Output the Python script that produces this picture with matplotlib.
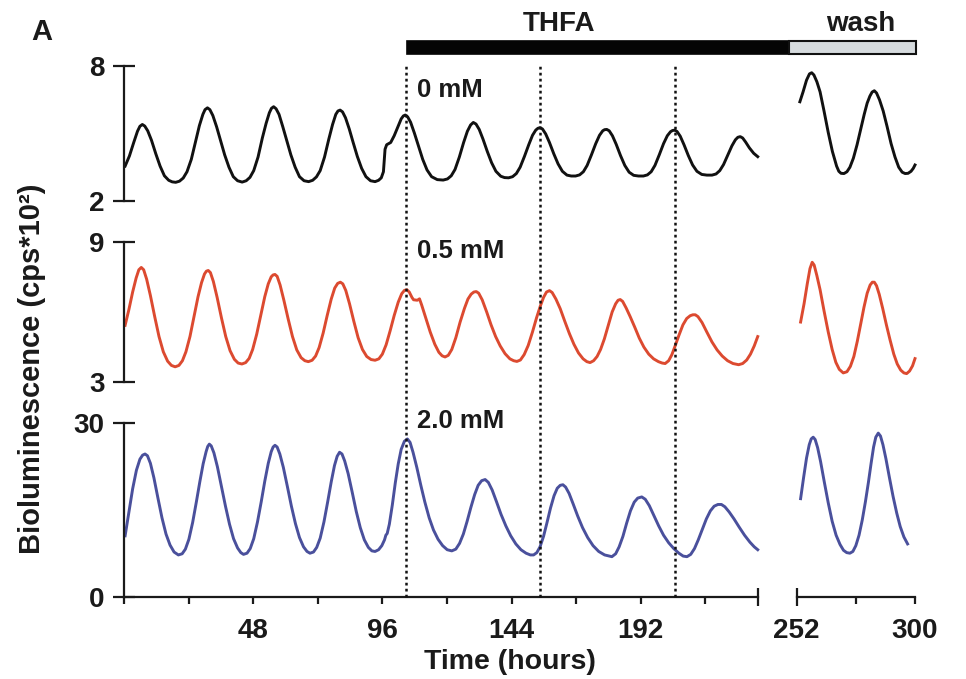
import matplotlib
matplotlib.use("Agg")
import matplotlib.pyplot as plt
import matplotlib.transforms as mtransforms
from matplotlib.patches import Rectangle
from matplotlib.lines import Line2D

# values: time (hours) vs bioluminescence (cps*10^2)
# 0 mM THFA, before the break
t_0mM = [0.4, 2.0, 3.6, 5.0, 5.9, 6.8, 7.7, 8.8, 10.2, 11.8, 13.4, 15.0, 16.6, 17.9, 19.2,
         20.6, 22.0, 23.4, 25.0, 26.6, 28.0, 29.3, 30.1, 31.0, 31.9, 33.0, 34.4, 35.8,
         37.4, 39.0, 40.6, 42.2, 43.9, 45.4, 46.8, 48.2, 49.8, 51.4, 52.8, 54.0, 54.8,
         55.6, 56.5, 57.6, 59.0, 60.4, 62.0, 63.6, 65.2, 66.9, 68.6, 70.1, 71.5, 72.9,
         74.5, 76.1, 77.5, 78.7, 79.5, 80.3, 81.2, 82.3, 83.7, 85.1, 86.7, 88.3, 89.9,
         91.6, 93.3, 94.6, 95.6, 96.4, 97.0, 97.6, 99.1, 100.4, 101.8, 103.0, 103.8,
         104.5, 105.4, 106.5, 107.9, 109.4, 111.0, 112.6, 114.3, 116.4, 118.6, 120.2,
         121.6, 123.0, 124.6, 126.2, 127.6, 128.8, 129.8, 130.8, 132.0, 133.4, 135.0,
         136.6, 138.2, 140.0, 141.4, 142.9, 144.4, 145.8, 147.2, 148.8, 150.4, 151.8,
         153.0, 153.8, 154.6, 155.5, 156.7, 158.1, 159.7, 161.3, 162.9, 164.6, 166.2,
         167.8, 169.3, 170.7, 172.1, 173.7, 175.3, 176.7, 177.9, 178.6, 179.4, 180.3,
         181.5, 182.9, 184.5, 186.1, 187.7, 189.4, 191.2, 193.0, 194.5, 195.9, 197.3,
         198.9, 200.5, 201.9, 203.1, 203.8, 204.6, 205.5, 206.7, 208.1, 209.7, 211.3,
         212.9, 214.7, 216.6, 218.5, 220.0, 221.4, 222.8, 224.4, 225.9, 227.2, 228.1,
         229.0, 229.9, 231.0, 232.4, 234.0, 235.5]
y_0mM = [3.55, 4.00, 4.60, 5.10, 5.32, 5.40, 5.33, 5.12, 4.70, 4.10, 3.55, 3.12, 2.92, 2.85, 2.83,
         2.88, 3.02, 3.30, 3.85, 4.65, 5.35, 5.85, 6.06, 6.14, 6.06, 5.80, 5.30, 4.72,
         4.05, 3.50, 3.08, 2.90, 2.84, 2.90, 3.05, 3.35, 3.95, 4.80, 5.45, 5.92, 6.12,
         6.19, 6.10, 5.85, 5.30, 4.72, 4.05, 3.50, 3.08, 2.90, 2.86, 2.92, 3.07, 3.35,
         3.95, 4.75, 5.40, 5.85, 6.00, 6.04, 5.96, 5.70, 5.20, 4.62, 3.98, 3.45, 3.08,
         2.90, 2.86, 2.92, 3.03, 3.30, 4.30, 4.50, 4.60, 4.90, 5.30, 5.65, 5.78,
         5.82, 5.74, 5.50, 5.02, 4.45, 3.85, 3.38, 3.08, 2.95, 2.93, 2.98,
         3.12, 3.40, 3.95, 4.60, 5.10, 5.38, 5.49, 5.42, 5.18, 4.75, 4.20,
         3.70, 3.32, 3.10, 3.04, 3.03, 3.08, 3.22, 3.50, 3.98, 4.50, 4.92,
         5.15, 5.23, 5.26, 5.20, 4.98, 4.60, 4.10, 3.65, 3.32, 3.15, 3.11,
         3.11, 3.16, 3.30, 3.58, 4.05, 4.55, 4.92, 5.12, 5.17, 5.18, 5.12,
         4.90, 4.52, 4.02, 3.58, 3.28, 3.14, 3.11, 3.11, 3.16, 3.30, 3.58,
         4.05, 4.55, 4.90, 5.08, 5.13, 5.15, 5.09, 4.88, 4.50, 4.02, 3.60,
         3.32, 3.18, 3.15, 3.15, 3.20, 3.35, 3.62, 4.05, 4.45, 4.72, 4.83,
         4.86, 4.80, 4.62, 4.36, 4.12, 3.97]
# 0 mM, after wash
tw_0mM = [253.3, 254.6, 256.0, 257.2, 258.1, 259.0, 260.2, 261.5, 263.1, 264.8, 266.5, 268.2,
          269.1, 270.0, 271.2, 272.4, 273.6, 275.0, 276.5, 278.0, 279.4, 280.6, 281.7, 282.6,
          283.5, 284.4, 285.6, 287.1, 288.7, 290.3, 291.9, 293.4, 294.8, 296.0, 297.2, 298.4,
          299.3, 300.0]
yw_0mM = [6.41, 6.85, 7.37, 7.65, 7.70, 7.60, 7.30, 6.85, 6.00, 5.05, 4.20, 3.55,
          3.32, 3.23, 3.22, 3.30, 3.50, 3.90, 4.50, 5.20, 5.85, 6.35, 6.66, 6.84,
          6.90, 6.80, 6.50, 6.00, 5.30, 4.55, 3.95, 3.50, 3.28, 3.22, 3.23, 3.32,
          3.45, 3.60]

# 0.5 mM
t_05mM = [0.4, 1.8, 3.2, 4.5, 5.5, 6.4, 7.3, 8.4, 9.8, 11.4, 13.0, 14.6, 16.2, 17.6, 19.0,
          20.4, 21.7, 23.0, 24.5, 26.0, 27.5, 28.8, 29.9, 30.6, 31.3, 32.1, 33.2, 34.6,
          36.2, 37.8, 39.4, 41.0, 42.4, 43.8, 45.2, 46.5, 47.8, 49.3, 50.8, 52.3, 53.6,
          54.7, 55.4, 56.1, 56.9, 58.0, 59.4, 61.0, 62.6, 64.2, 65.8, 67.2, 68.5, 69.9,
          71.2, 72.5, 74.0, 75.5, 77.0, 78.3, 79.4, 80.4, 81.3, 82.4, 83.8, 85.4, 87.0,
          88.6, 90.2, 91.8, 93.3, 94.7, 96.0, 97.4, 98.9, 100.4, 101.9, 103.2, 104.2,
          105.1, 106.0, 107.0, 107.6, 109.0, 109.8, 110.6, 112.2, 113.8, 115.5, 117.0,
          118.2, 119.3, 120.5, 121.8, 123.3, 124.9, 126.5, 127.8, 129.0, 130.0, 130.9,
          131.8, 133.1, 134.8, 136.4, 138.1, 139.8, 141.6, 143.4, 144.8, 146.0, 147.3,
          148.7, 150.2, 151.8, 153.3, 154.7, 155.9, 157.0, 158.1, 159.1, 160.5, 162.1,
          163.8, 165.5, 167.2, 168.9, 170.6, 172.0, 173.2, 174.5, 175.8, 177.1, 178.5,
          180.0, 181.4, 182.7, 183.6, 184.4, 185.3, 186.6, 188.1, 189.8, 191.5, 193.2,
          195.0, 196.8, 198.6, 200.0, 201.1, 202.4, 203.6, 204.8, 206.2, 207.7, 209.1,
          210.4, 211.4, 212.3, 213.3, 214.8, 216.6, 218.5, 220.4, 222.3, 224.3, 226.3,
          228.4, 229.9, 231.4, 232.8, 234.2, 235.5]
y_05mM = [5.43, 6.10, 6.85, 7.45, 7.80, 7.90, 7.80, 7.40, 6.70, 5.80, 4.95, 4.30, 3.90, 3.72, 3.66,
          3.72, 3.92, 4.30, 4.95, 5.80, 6.65, 7.25, 7.62, 7.74, 7.77, 7.68, 7.30, 6.62,
          5.75, 4.95, 4.35, 3.98, 3.82, 3.78, 3.84, 4.02, 4.40, 5.05, 5.85, 6.65, 7.20,
          7.50, 7.58, 7.60, 7.52, 7.15, 6.50, 5.70, 4.95, 4.38, 4.05, 3.92, 3.88, 3.94,
          4.12, 4.48, 5.10, 5.85, 6.55, 7.02, 7.22, 7.27, 7.20, 6.92, 6.35, 5.60, 4.90,
          4.40, 4.10, 3.97, 3.94, 4.00, 4.20, 4.60, 5.20, 5.85, 6.42, 6.78, 6.92,
          6.95, 6.85, 6.62, 6.52, 6.50, 6.56, 6.30, 5.72, 5.14, 4.62, 4.28,
          4.13, 4.08, 4.15, 4.40, 4.90, 5.57, 6.15, 6.55, 6.76, 6.85, 6.87,
          6.80, 6.52, 5.99, 5.45, 4.95, 4.55, 4.22, 4.00, 3.92, 3.89, 3.95,
          4.18, 4.57, 5.15, 5.75, 6.25, 6.62, 6.85, 6.91, 6.83, 6.55, 6.14,
          5.60, 5.08, 4.62, 4.25, 4.00, 3.88, 3.84, 3.92, 4.10, 4.40, 4.85,
          5.45, 6.00, 6.35, 6.50, 6.53, 6.45, 6.17, 5.80, 5.35, 4.88, 4.50,
          4.20, 4.00, 3.88, 3.82, 3.80, 3.92, 4.18, 4.55, 5.00, 5.45, 5.72,
          5.84, 5.88, 5.88, 5.80, 5.55, 5.14, 4.72, 4.38, 4.12, 3.92, 3.80,
          3.75, 3.80, 3.95, 4.20, 4.55, 4.95]
tw_05mM = [253.6, 255.0, 256.3, 257.4, 258.3, 259.1, 260.2, 261.5, 263.1, 264.8, 266.4, 267.9,
           269.3, 270.9, 272.4, 273.8, 275.2, 276.6, 278.0, 279.3, 280.6, 281.8, 282.7, 283.5,
           284.4, 285.5, 286.9, 288.4, 289.9, 291.4, 292.8, 294.2, 295.5, 296.6, 297.8, 299.0,
           300.0]
yw_05mM = [5.57, 6.35, 7.20, 7.85, 8.12, 8.00, 7.55, 6.95, 6.05, 5.15, 4.40, 3.85,
           3.55, 3.40, 3.45, 3.68, 4.10, 4.75, 5.50, 6.20, 6.80, 7.15, 7.27, 7.27,
           7.12, 6.75, 6.15, 5.45, 4.80, 4.20, 3.78, 3.52, 3.40, 3.37, 3.48, 3.70,
           4.01]

# 2.0 mM
t_2mM = [0.4, 1.8, 3.2, 4.6, 5.9, 6.9, 7.8, 8.7, 9.8, 11.1, 12.6, 14.1, 15.6, 17.1, 18.6,
         20.2, 21.6, 22.8, 24.1, 25.5, 26.9, 28.2, 29.4, 30.5, 31.1, 31.7, 32.4, 33.4,
         34.7, 36.2, 37.7, 39.2, 40.7, 42.2, 43.4, 44.4, 45.7, 46.9, 48.2, 49.6, 51.0,
         52.3, 53.6, 54.7, 55.4, 56.1, 56.9, 57.9, 59.2, 60.7, 62.2, 63.7, 65.2, 66.7,
         68.0, 69.1, 70.4, 71.6, 72.9, 74.3, 75.7, 77.0, 78.2, 79.2, 80.1, 81.0, 82.0,
         83.3, 84.8, 86.3, 87.8, 89.3, 90.8, 92.1, 93.3, 94.6, 95.8, 96.8, 97.3, 97.8,
         98.6, 99.7, 100.8, 101.9, 103.0, 104.2, 105.3, 106.3, 107.4, 108.8, 110.3,
         111.8, 113.4, 115.0, 116.7, 118.4, 120.1, 121.8, 123.3, 124.7, 126.1, 127.5,
         128.9, 130.3, 131.6, 132.9, 134.2, 135.4, 136.8, 138.4, 140.1, 141.9, 143.7,
         145.6, 147.5, 149.4, 151.0, 152.2, 153.4, 154.6, 155.9, 157.2, 158.5, 159.8,
         161.0, 162.1, 163.1, 164.1, 165.4, 166.9, 168.6, 170.4, 172.3, 174.3, 176.4,
         178.6, 181.3, 182.7, 184.0, 185.4, 186.8, 188.2, 189.6, 190.9, 192.4, 193.7,
         195.2, 196.9, 198.7, 200.5, 202.4, 204.3, 206.2, 207.8, 209.2, 210.6, 212.0,
         213.4, 214.9, 216.4, 217.9, 219.3, 220.7, 222.0, 223.3, 224.9, 226.7, 228.6,
         230.6, 232.6, 234.2, 235.5]
y_2mM = [10.5, 14.6, 18.6, 21.8, 23.7, 24.4, 24.6, 24.3, 23.0, 20.5, 17.0, 13.6, 10.8, 8.9, 7.7,
         7.2, 7.4, 8.2, 9.9, 12.8, 16.4, 19.9, 22.9, 25.0, 25.9, 26.3, 26.0, 24.8,
         22.4, 19.0, 15.6, 12.5, 10.0, 8.4, 7.6, 7.3, 7.5, 8.3, 10.0, 12.9, 16.4,
         19.9, 23.0, 25.0, 25.8, 26.1, 25.8, 24.6, 22.3, 19.0, 15.6, 12.6, 10.2, 8.6,
         7.8, 7.5, 7.7, 8.5, 10.1, 12.9, 16.4, 19.8, 22.6, 24.2, 24.9, 24.6, 23.4,
         21.2, 18.0, 14.7, 11.9, 9.8, 8.5, 7.9, 7.8, 8.1, 8.8, 9.8, 10.6, 10.9,
         12.5, 15.8, 19.6, 22.9, 25.4, 26.8, 27.2, 26.6, 24.9, 22.3, 19.2,
         16.3, 13.6, 11.5, 9.9, 8.8, 8.1, 7.9, 8.2, 9.2, 10.8, 13.0,
         15.4, 17.6, 19.2, 20.0, 20.2, 19.7, 18.4, 16.4, 14.2, 12.2, 10.5,
         9.1, 8.1, 7.5, 7.2, 7.2, 7.6, 8.6, 10.4, 12.8, 15.3, 17.4,
         18.7, 19.2, 19.3, 18.9, 17.8, 16.0, 13.9, 11.9, 10.2, 8.8, 7.8,
         7.2, 6.9, 7.4, 8.6, 10.4, 12.7, 14.8, 16.3, 17.0, 17.2, 16.8,
         15.7, 14.0, 12.2, 10.6, 9.3, 8.3, 7.5, 7.0, 6.9, 7.3, 8.3,
         9.8, 11.6, 13.4, 14.8, 15.6, 15.9, 15.9, 15.5, 14.6, 13.4, 12.0,
         10.6, 9.4, 8.6, 8.1]
tw_2mM = [253.6, 254.8, 256.0, 257.1, 257.9, 258.7, 259.5, 260.5, 261.7, 263.2, 264.8, 266.4,
          268.0, 269.6, 271.0, 272.3, 273.6, 274.8, 276.0, 277.3, 278.6, 279.9, 281.1, 282.2,
          283.2, 284.1, 285.1, 286.0, 287.0, 288.2, 289.6, 291.1, 292.6, 294.0, 295.5, 297.0]
yw_2mM = [16.9, 20.5, 23.9, 26.2, 27.2, 27.5, 27.1, 25.7, 23.3, 19.8, 16.2, 13.0,
          10.6, 9.0, 8.0, 7.6, 7.5, 7.8, 8.8, 10.6, 13.2, 16.4, 19.7, 23.0,
          25.8, 27.5, 28.2, 27.7, 26.2, 23.8, 20.6, 17.3, 14.4, 12.1, 10.3, 9.1]

conc_labels = ["0 mM", "0.5 mM", "2.0 mM"]
y_limits = [(2, 8), (3, 9), (0, 30)]
colors = ["#111111", "#dc4a30", "#4a509c"]
thfa_start, wash_start, wash_end = 105.3, 249.0, 300.5
dash_times = [104.7, 154.6, 204.6]

plt.rcParams["font.family"] = ["Liberation Sans", "DejaVu Sans"]
plt.rcParams["font.weight"] = "bold"
plt.rcParams["text.color"] = "#1a1a1a"
plt.rcParams["xtick.color"] = "#1a1a1a"
plt.rcParams["ytick.color"] = "#1a1a1a"

fig = plt.figure(figsize=(9.66, 6.79), dpi=100)

rows = [(0.7040, 0.1988), (0.4370, 0.2071), (0.1212, 0.2563)]
series = [(t_0mM, y_0mM, tw_0mM, yw_0mM),
          (t_05mM, y_05mM, tw_05mM, yw_05mM),
          (t_2mM, y_2mM, tw_2mM, yw_2mM)]
lw_axis = 1.6
ink = "#1a1a1a"
tick_fs = 20

left_axes, right_axes = [], []
for i, (b, h) in enumerate(rows):
    axl = fig.add_axes([0.1284, b, 0.656, h])
    axr = fig.add_axes([0.8247, b, 0.1225, h])
    t, y, tw, yw = series[i]
    axl.plot(t, y, color=colors[i], lw=2.1, solid_joinstyle="round", clip_on=False)
    axr.plot(tw, yw, color=colors[i], lw=2.1, solid_joinstyle="round", clip_on=False)

    lo, hi = y_limits[i]
    for ax in (axl, axr):
        ax.set_ylim(lo, hi)
        ax.patch.set_visible(False)
        for s in ax.spines.values():
            s.set_visible(False)
            s.set_linewidth(lw_axis)
            s.set_color(ink)
    axl.set_xlim(0, 235.5)
    axr.set_xlim(252, 300)

    axl.spines["left"].set_visible(True)
    axl.set_yticks([lo, hi])
    axl.tick_params(axis="y", direction="inout", length=16, width=lw_axis,
                    labelsize=tick_fs, pad=6)
    axr.set_yticks([])
    if i < 2:
        axl.set_xticks([])
        axr.set_xticks([])
    axl.text(108.9, [6.93, 8.62, 30.3][i], conc_labels[i], fontsize=18.5,
             fontweight="bold", va="center", ha="left")
    left_axes.append(axl)
    right_axes.append(axr)

# shared time axis on the bottom row, broken between the two parts
axl, axr = left_axes[2], right_axes[2]
axl.spines["bottom"].set_visible(True)
axr.spines["bottom"].set_visible(True)
axl.set_xticks(range(0, 217, 24))
axl.set_xticklabels(["", "", "48", "", "96", "", "144", "", "192", ""])
axl.set_xticks([235.5], minor=True)
axl.tick_params(axis="x", which="major", direction="out", length=5, width=lw_axis,
                labelsize=tick_fs, pad=10)
axl.tick_params(axis="x", which="minor", direction="inout", length=13, width=lw_axis)
axr.set_xticks([252])
axr.set_xticklabels(["252"])
axr.set_xticks([276, 300], minor=True)
axr.set_xticklabels(["", "300"], minor=True)
axr.tick_params(axis="x", which="major", direction="inout", length=13, width=lw_axis,
                labelsize=tick_fs, pad=8.5)
axr.tick_params(axis="x", which="minor", direction="out", length=5, width=lw_axis,
                labelsize=tick_fs, pad=10)

# dotted reference lines running through all three traces
blend = mtransforms.blended_transform_factory(axl.transData, fig.transFigure)
for x in dash_times:
    fig.add_artist(Line2D([x, x], [0.1212, 0.907], transform=blend, color="#111111",
                          lw=1.8, linestyle=(0, (1.1, 1.3))))


def fig_x(ax, hours):
    disp = ax.transData.transform((hours, 0))
    return fig.transFigure.inverted().transform(disp)[0]


# treatment bar
bar_y, bar_h = 0.9212, 0.0177
x0 = fig_x(axl, thfa_start)
x1 = fig_x(axr, wash_start)
x2 = fig_x(axr, wash_end)
fig.add_artist(Rectangle((x0, bar_y), x1 - x0, bar_h, transform=fig.transFigure,
                         facecolor="#050505", edgecolor="#050505", lw=1.2))
fig.add_artist(Rectangle((x1, bar_y), x2 - x1, bar_h, transform=fig.transFigure,
                         facecolor="#d6dbde", edgecolor="#111111", lw=1.5))
fig.text(0.5787, 0.9647, "THFA", fontsize=20, fontweight="bold", ha="center", va="center")
fig.text(0.8913, 0.9647, "wash", fontsize=20, fontweight="bold", ha="center", va="center")

fig.text(0.0435, 0.953, "A", fontsize=21, fontweight="bold", ha="center", va="center")
fig.text(0.0331, 0.4566, "Bioluminescence (cps*10²)", fontsize=21, fontweight="bold",
         rotation=90, ha="center", va="center")
fig.text(0.528, 0.025, "Time (hours)", fontsize=20.5, fontweight="bold",
         ha="center", va="center")

fig.savefig("out.png", dpi=100)
